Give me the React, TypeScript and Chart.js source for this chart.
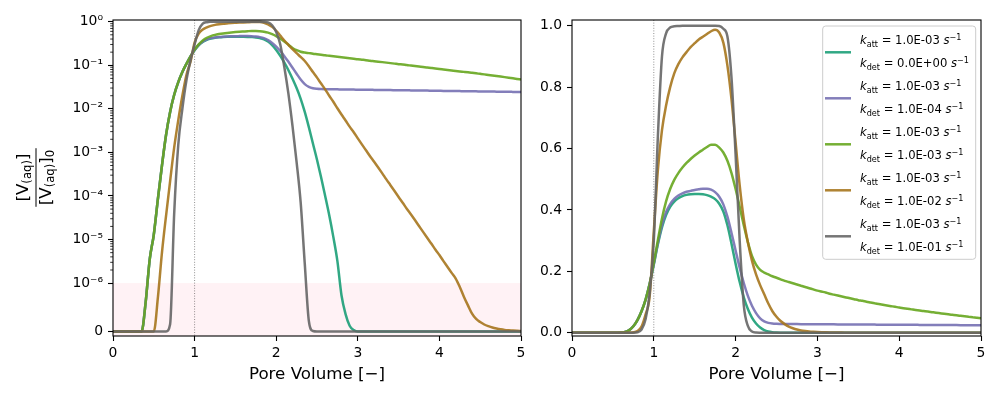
import React, { useEffect, useRef } from "react";
import { Chart, LinearScale, registerables } from "chart.js";

// ---------------- data ----------------
const poreVolume = [0,0.05,0.1,0.15,0.2,0.25,0.3,0.35,0.4,0.45,0.5,0.55,0.6,0.65,0.7,0.75,0.8,0.85,0.9,0.95,
  1,1.05,1.1,1.15,1.2,1.25,1.3,1.35,1.4,1.45,1.5,1.55,1.6,1.65,1.7,1.75,1.8,1.85,1.9,1.95,
  2,2.05,2.1,2.15,2.2,2.25,2.3,2.35,2.4,2.45,2.5,2.55,2.6,2.65,2.7,2.75,2.8,2.85,2.9,2.95,
  3,3.05,3.1,3.15,3.2,3.25,3.3,3.35,3.4,3.45,3.5,3.55,3.6,3.65,3.7,3.75,3.8,3.85,3.9,3.95,
  4,4.05,4.1,4.15,4.2,4.25,4.3,4.35,4.4,4.45,4.5,4.55,4.6,4.65,4.7,4.75,4.8,4.85,4.9,4.95,5];

// k_det = 0
const kdet0 = [0,0,0,0,0,0,0,0,6e-7,3.5e-6,1.3e-5,8.5e-5,5e-4,2.5e-3,8.5e-3,0.021,0.041,0.07,0.108,0.16,
  0.222,0.288,0.343,0.383,0.41,0.427,0.438,0.445,0.449,0.451,0.452,0.452,0.451,0.448,0.443,0.435,0.42,0.395,0.35,0.29,
  0.225,0.165,0.115,0.077,0.049,0.03,0.017,0.0085,0.0038,0.0016,6.8e-4,2.7e-4,1e-4,3.6e-5,1.15e-5,3.2e-6,7.5e-7,3.6e-7,1.2e-7,3e-8,
  0,0,0,0,0,0,0,0,0,0,0,0,0,0,0,0,0,0,0,0,
  0,0,0,0,0,0,0,0,0,0,0,0,0,0,0,0,0,0,0,0,0];
// k_det = 1e-4
const kdet1e4 = [0,0,0,0,0,0,0,0,6e-7,3.5e-6,1.3e-5,8.5e-5,5e-4,2.5e-3,8.5e-3,0.021,0.041,0.07,0.108,0.16,
  0.224,0.292,0.352,0.393,0.419,0.436,0.447,0.454,0.459,0.462,0.465,0.467,0.469,0.469,0.466,0.458,0.443,0.418,0.378,0.325,
  0.268,0.212,0.162,0.12,0.088,0.064,0.047,0.037,0.032,0.0298,0.0289,0.0285,0.0283,0.0282,0.0281,0.028,0.0279,0.0278,0.0277,0.0276,
  0.0275,0.0274,0.0273,0.0273,0.0272,0.0271,0.027,0.0269,0.0269,0.0268,0.0267,0.0266,0.0266,0.0265,0.0264,0.0263,0.0262,0.0262,0.0261,0.026,
  0.0259,0.0258,0.0258,0.0257,0.0256,0.0255,0.0254,0.0254,0.0253,0.0252,0.0251,0.025,0.025,0.0249,0.0248,0.0247,0.0246,0.0246,0.0245,0.0244,0.0243];
// k_det = 1e-3
const kdet1e3 = [0,0,0,0,0,0,0,0,6e-7,3.5e-6,1.3e-5,8.5e-5,5e-4,2.5e-3,8.5e-3,0.021,0.041,0.07,0.108,0.16,
  0.228,0.302,0.372,0.428,0.468,0.498,0.52,0.538,0.553,0.566,0.577,0.587,0.596,0.605,0.612,0.612,0.603,0.587,0.56,0.52,
  0.468,0.41,0.35,0.295,0.25,0.222,0.205,0.196,0.19,0.184,0.179,0.174,0.169,0.165,0.161,0.157,0.153,0.149,0.145,0.141,
  0.137,0.134,0.131,0.127,0.124,0.121,0.118,0.115,0.112,0.109,0.106,0.104,0.101,0.0985,0.096,0.0935,0.091,0.0887,0.0865,0.0843,
  0.082,0.08,0.078,0.076,0.074,0.0722,0.0705,0.0688,0.067,0.0652,0.0635,0.0618,0.06,0.0583,0.0566,0.055,0.0534,0.0518,0.0502,0.0486,0.047];
// k_det = 1e-2
const kdet1e2 = [0,0,0,0,0,0,0,0,0,0,0,7e-7,5e-6,3.5e-5,2.2e-4,1.3e-3,5.5e-3,0.02,0.06,0.12,
  0.33,0.53,0.66,0.74,0.8,0.845,0.875,0.897,0.914,0.93,0.943,0.955,0.964,0.973,0.982,0.987,0.978,0.945,0.87,0.76,
  0.62,0.48,0.37,0.295,0.235,0.19,0.155,0.125,0.095,0.07,0.052,0.038,0.028,0.02,0.0145,0.0103,0.0074,0.0054,0.0039,0.0029,
  0.0021,0.00153,0.00112,8.2e-4,6.1e-4,4.5e-4,3.3e-4,2.4e-4,1.77e-4,1.3e-4,9.5e-5,7e-5,5.1e-5,3.8e-5,2.8e-5,2.05e-5,1.5e-5,1.1e-5,8.1e-6,5.9e-6,
  4.4e-6,3.2e-6,2.35e-6,1.72e-6,1.27e-6,9.2e-7,7.2e-7,5.4e-7,3.7e-7,2.6e-7,1.95e-7,1.45e-7,1.1e-7,8.2e-8,6.2e-8,4.6e-8,3.4e-8,2.6e-8,1.9e-8,1.4e-8,1e-8];
// k_det = 1e-1
const kdet1e1 = [0,0,0,0,0,0,0,0,0,0,0,0,0,0,1.5e-7,4e-5,1.5e-3,0.01,0.045,0.13,
  0.3,0.64,0.9,0.975,0.994,0.998,0.999,1,1,1,1,1,1,1,1,1,0.999,0.99,0.965,0.83,
  0.58,0.3,0.09,0.022,0.004,6e-4,7e-5,2.8e-6,2.2e-7,1e-8,0,0,0,0,0,0,0,0,0,0,
  0,0,0,0,0,0,0,0,0,0,0,0,0,0,0,0,0,0,0,0,
  0,0,0,0,0,0,0,0,0,0,0,0,0,0,0,0,0,0,0,0,0];

const kattLabels = ["1.0E-03", "1.0E-03", "1.0E-03", "1.0E-03", "1.0E-03"];
const kdetLabels = ["0.0E+00", "1.0E-04", "1.0E-03", "1.0E-02", "1.0E-01"];

const xTicks = [0, 1, 2, 3, 4, 5];
const logTicks = [0, 1e-6, 1e-5, 1e-4, 1e-3, 1e-2, 1e-1, 1];
const logTickLabels = ["0", "10⁻⁶", "10⁻⁵", "10⁻⁴", "10⁻³", "10⁻²", "10⁻¹", "10⁰"];
const linTicks = [0, 0.2, 0.4, 0.6, 0.8, 1.0];

const seriesList = [kdet0, kdet1e4, kdet1e3, kdet1e2, kdet1e1];
const colors = ["rgba(27,158,119,0.9)", "rgba(117,112,179,0.9)", "rgba(102,166,30,0.9)", "rgba(166,118,29,0.9)", "rgba(102,102,102,0.9)"];

// ---------------- symlog scale ----------------
const LINTHRESH = 1e-6;
const LINSCALE = 1 / (1 - 1 / 10);
function symFwd(v: number) {
  const a = Math.abs(v), s = v < 0 ? -1 : 1;
  return a <= LINTHRESH ? (s * a / LINTHRESH) * LINSCALE : s * (LINSCALE + Math.log10(a / LINTHRESH));
}
function symInv(t: number) {
  const a = Math.abs(t), s = t < 0 ? -1 : 1;
  return a <= LINSCALE ? (s * a / LINSCALE) * LINTHRESH : s * LINTHRESH * Math.pow(10, a - LINSCALE);
}
class SymlogScale extends LinearScale {
  static id = "symlog";
  static defaults = {};
  configure() {
    super.configure();
    (this as any)._tMin = symFwd(this.min);
    (this as any)._tMax = symFwd(this.max);
  }
  getPixelForValue(v: number) {
    const a = (this as any)._tMin, b = (this as any)._tMax;
    return this.getPixelForDecimal((symFwd(v) - a) / (b - a));
  }
  getValueForPixel(p: number) {
    const a = (this as any)._tMin, b = (this as any)._tMax;
    return symInv(a + this.getDecimalForPixel(p) * (b - a));
  }
}
Chart.register(...registerables, SymlogScale as any);

const FAMILY = "DejaVu Sans";

// ---------------- helpers ----------------
type Seg = { t: string; size: number; italic?: boolean; dy?: number };
function segWidth(ctx: CanvasRenderingContext2D, segs: Seg[]) {
  let w = 0;
  for (const s of segs) {
    ctx.font = `${s.italic ? "italic " : ""}${s.size}px "${FAMILY}"`;
    w += ctx.measureText(s.t).width;
  }
  return w;
}
function drawSegs(ctx: CanvasRenderingContext2D, x: number, y: number, segs: Seg[]) {
  let cx = x;
  for (const s of segs) {
    ctx.font = `${s.italic ? "italic " : ""}${s.size}px "${FAMILY}"`;
    ctx.fillText(s.t, cx, y + (s.dy || 0));
    cx += ctx.measureText(s.t).width;
  }
}

const LINE_W = 2.5;

function makeDatasets() {
  return seriesList.map((s, i) => ({
    data: poreVolume.map((x, j) => ({ x, y: s[j] })),
    borderColor: colors[i],
    backgroundColor: colors[i],
    borderWidth: LINE_W,
    pointRadius: 0,
    fill: false,
    cubicInterpolationMode: "monotone" as const,
    order: seriesList.length - i,
  }));
}

function xScale() {
  return {
    type: "linear",
    min: 0,
    max: 5,
    bounds: "data",
    afterBuildTicks: (s: any) => { s.ticks = xTicks.map((v) => ({ value: v })); },
    afterFit: (s: any) => { s.height = 64; },
    grid: { display: true, drawOnChartArea: false, drawTicks: true, tickLength: 5, tickWidth: 1.1, tickColor: "#000" },
    border: { display: false },
    ticks: { color: "#000", font: { family: FAMILY, size: 13.9 }, padding: 4, maxRotation: 0, autoSkip: false },
    title: { display: true, text: "Pore Volume [−]", color: "#000", font: { family: FAMILY, size: 16.7 }, padding: { top: 0, bottom: 15 } },
  };
}

const framePlugin = {
  id: "frame",
  afterDatasetsDraw(chart: any) {
    const { ctx, chartArea: a } = chart;
    ctx.save();
    ctx.strokeStyle = "#000";
    ctx.lineWidth = 1.1;
    ctx.strokeRect(a.left, a.top, a.right - a.left, a.bottom - a.top);
    ctx.restore();
  },
};

function vlinePlugin(extra?: (chart: any) => void) {
  return {
    id: "vline",
    beforeDatasetsDraw(chart: any) {
      const { ctx, chartArea: a } = chart;
      ctx.save();
      if (extra) extra(chart);
      const px = chart.scales.x.getPixelForValue(1);
      ctx.strokeStyle = "rgba(0,0,0,0.55)";
      ctx.lineWidth = 0.8;
      ctx.setLineDash([1, 1.6]);
      ctx.beginPath();
      ctx.moveTo(px, a.top);
      ctx.lineTo(px, a.bottom);
      ctx.stroke();
      ctx.restore();
    },
  };
}

const leftDecorPlugin = {
  id: "leftDecor",
  afterDraw(chart: any) {
    const { ctx, chartArea: a } = chart;
    const ys = chart.scales.y;
    ctx.save();
    // minor ticks
    ctx.strokeStyle = "#000";
    ctx.lineWidth = 0.8;
    for (let d = -6; d <= -1; d++) {
      for (let m = 2; m <= 9; m++) {
        const p = ys.getPixelForValue(m * Math.pow(10, d));
        ctx.beginPath();
        ctx.moveTo(a.left - 2.8, p);
        ctx.lineTo(a.left, p);
        ctx.stroke();
      }
    }
    // y axis title: [V_(aq)] / [V_(aq)]_0
    ctx.translate(36, 177.5);
    ctx.rotate(-Math.PI / 2);
    ctx.fillStyle = "#000";
    ctx.textBaseline = "alphabetic";
    ctx.textAlign = "left";
    const num: Seg[] = [
      { t: "[", size: 16.7 }, { t: "V", size: 16.7 }, { t: "(aq)", size: 11.7, dy: 3.5 }, { t: "]", size: 16.7 },
    ];
    const den: Seg[] = [
      { t: "[", size: 16.7 }, { t: "V", size: 16.7 }, { t: "(aq)", size: 11.7, dy: 3.5 }, { t: "]", size: 16.7 }, { t: "0", size: 11.7, dy: 3.5 },
    ];
    const wn = segWidth(ctx, num);
    const wd = segWidth(ctx, den);
    drawSegs(ctx, -wn / 2, -8.5, num);
    drawSegs(ctx, -wd / 2, 14.7, den);
    const bw = Math.max(wn, wd) + 3;
    ctx.strokeStyle = "#000";
    ctx.lineWidth = 1;
    ctx.beginPath();
    ctx.moveTo(-bw / 2, 0);
    ctx.lineTo(bw / 2, 0);
    ctx.stroke();
    ctx.restore();
  },
};

const RIGHT_OFFSET = 530;
const LEG_FS = 11.6;
const LEG_SUB = 8.1;
const legendPlugin = {
  id: "customLegend",
  afterDraw(chart: any) {
    const { ctx } = chart;
    ctx.save();
    const x0 = 822.7 - RIGHT_OFFSET, y0 = 26, x1 = 975.7 - RIGHT_OFFSET, y1 = 259.3;
    ctx.beginPath();
    ctx.roundRect(x0, y0, x1 - x0, y1 - y0, 3);
    ctx.fillStyle = "rgba(255,255,255,0.8)";
    ctx.fill();
    ctx.strokeStyle = "#cccccc";
    ctx.lineWidth = 1;
    ctx.stroke();
    ctx.textBaseline = "alphabetic";
    ctx.textAlign = "left";
    for (let i = 0; i < seriesList.length; i++) {
      const hy = 52.3 + 46 * i;
      ctx.strokeStyle = colors[i];
      ctx.lineWidth = LINE_W;
      ctx.beginPath();
      ctx.moveTo(825 - RIGHT_OFFSET, hy);
      ctx.lineTo(851 - RIGHT_OFFSET, hy);
      ctx.stroke();
      ctx.fillStyle = "#000";
      const tx = 860 - RIGHT_OFFSET;
      drawSegs(ctx, tx, hy - 8, [
        { t: "k", size: LEG_FS, italic: true }, { t: "att", size: LEG_SUB, dy: 2.5 },
        { t: " = " + kattLabels[i] + " ", size: LEG_FS }, { t: "s", size: LEG_FS, italic: true }, { t: "−1", size: LEG_SUB, dy: -4.8 },
      ]);
      drawSegs(ctx, tx, hy + 15, [
        { t: "k", size: LEG_FS, italic: true }, { t: "det", size: LEG_SUB, dy: 2.5 },
        { t: " = " + kdetLabels[i] + " ", size: LEG_FS }, { t: "s", size: LEG_FS, italic: true }, { t: "−1", size: LEG_SUB, dy: -4.8 },
      ]);
    }
    ctx.restore();
  },
};

function leftConfig(): any {
  return {
    type: "line",
    data: { datasets: makeDatasets() },
    options: {
      animation: false,
      responsive: false,
      events: [],
      layout: { padding: { top: 20, right: 9, left: 0, bottom: 0 } },
      plugins: { legend: { display: false }, tooltip: { enabled: false } },
      scales: {
        x: xScale(),
        y: {
          type: "symlog",
          min: symInv(-0.103),
          max: symInv(7.15),
          bounds: "data",
          afterBuildTicks: (s: any) => { s.ticks = logTicks.map((v) => ({ value: v })); },
          afterFit: (s: any) => { s.width = 113; },
          grid: { display: true, drawOnChartArea: false, drawTicks: true, tickLength: 5, tickWidth: 1.1, tickColor: "#000" },
          border: { display: false },
          ticks: {
            color: "#000",
            font: { family: FAMILY, size: 13.9 },
            padding: 5,
            autoSkip: false,
            callback: (v: number) => { const k = logTicks.indexOf(v); return k >= 0 ? logTickLabels[k] : ""; },
          },
        },
      },
    },
    plugins: [
      vlinePlugin((chart: any) => {
        const { ctx, chartArea: a } = chart;
        const py = chart.scales.y.getPixelForValue(1e-6);
        ctx.fillStyle = "rgba(255,192,203,0.2)";
        ctx.fillRect(a.left, py, a.right - a.left, a.bottom - py);
      }),
      framePlugin,
      leftDecorPlugin,
    ],
  };
}

function rightConfig(): any {
  return {
    type: "line",
    data: { datasets: makeDatasets() },
    options: {
      animation: false,
      responsive: false,
      events: [],
      layout: { padding: { top: 20, right: 19, left: 0, bottom: 0 } },
      plugins: { legend: { display: false }, tooltip: { enabled: false } },
      scales: {
        x: xScale(),
        y: {
          type: "linear",
          min: -0.0107,
          max: 1.0186,
          bounds: "data",
          afterBuildTicks: (s: any) => { s.ticks = linTicks.map((v) => ({ value: v })); },
          afterFit: (s: any) => { s.width = 42; },
          grid: { display: true, drawOnChartArea: false, drawTicks: true, tickLength: 5, tickWidth: 1.1, tickColor: "#000" },
          border: { display: false },
          ticks: {
            color: "#000",
            font: { family: FAMILY, size: 13.9 },
            padding: 5,
            autoSkip: false,
            callback: (v: number) => v.toFixed(1),
          },
        },
      },
    },
    plugins: [vlinePlugin(), framePlugin, legendPlugin],
  };
}

export default function App() {
  const leftRef = useRef<HTMLCanvasElement>(null);
  const rightRef = useRef<HTMLCanvasElement>(null);
  useEffect(() => {
    const c1 = new Chart(leftRef.current as HTMLCanvasElement, leftConfig());
    const c2 = new Chart(rightRef.current as HTMLCanvasElement, rightConfig());
    return () => { c1.destroy(); c2.destroy(); };
  }, []);
  return (
    <div style={{ position: "fixed", left: 0, top: 0, width: 1000, height: 400, background: "#fff" }}>
      <canvas ref={leftRef} width={530} height={400} style={{ position: "absolute", left: 0, top: 0, width: 530, height: 400 }} />
      <canvas ref={rightRef} width={470} height={400} style={{ position: "absolute", left: RIGHT_OFFSET, top: 0, width: 470, height: 400 }} />
    </div>
  );
}
